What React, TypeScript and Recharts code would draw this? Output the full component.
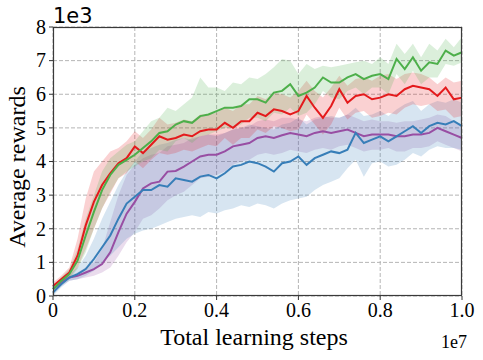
import { ComposedChart, Line, Area, XAxis, YAxis, CartesianGrid } from "recharts";

// training steps (x1e7)
const steps = [
  0, 0.02, 0.04, 0.06, 0.08, 0.1, 0.12, 0.14, 0.16, 0.18, 0.2,
  0.22, 0.24, 0.26, 0.28, 0.3, 0.32, 0.34, 0.36, 0.38, 0.4,
  0.42, 0.44, 0.46, 0.48, 0.5, 0.52, 0.54, 0.56, 0.58, 0.6,
  0.62, 0.64, 0.66, 0.68, 0.7, 0.72, 0.74, 0.76, 0.78, 0.8,
  0.82, 0.84, 0.86, 0.88, 0.9, 0.92, 0.94, 0.96, 0.98, 1.0,
];

const xTicks = [0, 0.2, 0.4, 0.6, 0.8, 1.0];
const yTicks = [0, 1, 2, 3, 4, 5, 6, 7, 8];

// rewards (x1e3)
const greenMean = [
  0.2, 0.45, 0.65, 1.05, 1.8, 2.5, 3.15, 3.6, 3.9, 4.05, 4.2,
  4.4, 4.6, 4.85, 4.9, 5.1, 5.2, 5.15, 5.35, 5.4, 5.5,
  5.6, 5.6, 5.65, 5.85, 5.85, 5.75, 6.05, 6.1, 6.3, 5.95,
  6.05, 6.2, 6.5, 6.35, 6.35, 6.5, 6.6, 6.45, 6.55, 6.6,
  6.45, 7.05, 6.75, 7.1, 6.7, 6.95, 6.9, 7.3, 7.15, 7.25,
];
const greenHigh = [
  0.3, 0.55, 0.8, 1.4, 2.3, 3.0, 3.7, 4.1, 4.3, 4.5, 4.6,
  4.9, 5.2, 5.3, 5.6, 5.5, 5.7, 5.9, 6.5, 6.2, 6.2,
  6.1, 6.35, 6.3, 6.5, 6.45, 6.6, 6.8, 7.05, 7.0, 6.6,
  6.9, 6.75, 6.85, 6.8, 6.85, 6.9, 6.95, 7.0, 6.9, 7.1,
  6.9, 7.5, 7.2, 7.5, 7.1, 7.5, 7.3, 7.65, 7.4, 7.7,
];
const greenLow = [
  0.1, 0.35, 0.5, 0.8, 1.3, 2.0, 2.6, 3.1, 3.5, 3.7, 3.85,
  4.0, 4.1, 4.35, 4.3, 4.6, 4.7, 4.55, 4.75, 4.8, 4.9,
  5.0, 5.0, 5.1, 5.3, 5.3, 5.2, 5.45, 5.4, 5.6, 5.35,
  5.45, 5.7, 6.1, 5.9, 5.85, 6.1, 6.2, 6.0, 6.2, 6.2,
  6.0, 6.6, 6.3, 6.7, 6.3, 6.5, 6.5, 6.9, 6.85, 6.95,
];

const redMean = [
  0.3, 0.5, 0.7, 1.2, 2.1, 2.8, 3.3, 3.65, 3.95, 4.1, 4.45,
  4.25, 4.5, 4.75, 4.65, 4.7, 4.8, 4.75, 4.9, 4.95, 4.95,
  5.15, 5.0, 5.2, 5.2, 5.45, 5.35, 5.55, 5.5, 5.4, 5.5,
  5.95, 5.6, 5.3, 5.65, 6.15, 5.75, 5.95, 6.0, 5.85, 5.9,
  6.0, 5.95, 6.15, 6.25, 6.2, 6.15, 5.95, 6.2, 5.85, 5.9,
];
const redHigh = [
  0.4, 0.6, 0.85, 1.7, 2.9, 3.7, 4.0, 4.3, 4.4, 4.6, 4.9,
  4.7, 4.95, 5.3, 5.1, 5.15, 5.25, 5.2, 5.4, 5.4, 5.45,
  5.6, 5.5, 5.7, 5.7, 5.95, 5.85, 6.05, 6.0, 5.9, 6.1,
  6.4, 6.1, 5.9, 6.2, 6.55, 6.25, 6.45, 6.5, 6.4, 6.55,
  6.6, 6.45, 6.6, 6.65, 6.6, 6.5, 6.3, 6.5, 6.35, 6.4,
];
const redLow = [
  0.2, 0.4, 0.55, 0.85, 1.4, 2.0, 2.6, 3.05, 3.5, 3.65, 4.0,
  3.8, 4.05, 4.25, 4.2, 4.25, 4.35, 4.3, 4.4, 4.5, 4.45,
  4.7, 4.5, 4.7, 4.7, 4.95, 4.85, 5.05, 5.0, 4.9, 4.95,
  5.4, 5.1, 4.8, 5.1, 5.6, 5.25, 5.45, 5.5, 5.3, 5.35,
  5.45, 5.4, 5.6, 5.7, 5.65, 5.7, 5.5, 5.55, 5.3, 5.35,
];

const purpleMean = [
  0.2, 0.4, 0.55, 0.6, 0.7, 0.8, 0.95, 1.3, 1.9, 2.45, 2.8,
  3.2, 3.35, 3.4, 3.7, 3.72, 3.85, 4.0, 4.15, 4.2, 4.2,
  4.3, 4.45, 4.5, 4.55, 4.7, 4.75, 4.7, 4.78, 4.85, 4.8,
  4.75, 4.85, 4.9, 4.85, 4.9, 4.95, 4.85, 4.75, 4.8, 4.8,
  4.8, 4.75, 4.75, 4.8, 4.8, 4.85, 5.0, 4.9, 4.8, 4.7,
];
const purpleHigh = [
  0.3, 0.5, 0.6, 0.7, 0.85, 1.0, 1.4, 2.2, 3.0, 3.6, 3.9,
  4.1, 4.2, 4.25, 4.45, 4.5, 4.55, 4.7, 4.75, 4.8, 4.8,
  4.85, 4.95, 5.0, 5.05, 5.2, 5.25, 5.2, 5.3, 5.3, 5.25,
  5.2, 5.3, 5.35, 5.3, 5.3, 5.4, 5.3, 5.2, 5.25, 5.2,
  5.2, 5.15, 5.2, 5.2, 5.25, 5.3, 5.4, 5.35, 5.2, 5.1,
];
const purpleLow = [
  0.1, 0.3, 0.45, 0.5, 0.55, 0.6, 0.7, 0.85, 1.2, 1.6, 1.9,
  2.3, 2.4, 2.6, 2.85, 3.0, 3.1, 3.3, 3.5, 3.55, 3.6,
  3.7, 3.9, 4.0, 4.05, 4.2, 4.25, 4.2, 4.25, 4.35, 4.3,
  4.25, 4.35, 4.4, 4.35, 4.45, 4.5, 4.4, 4.3, 4.35, 4.35,
  4.4, 4.3, 4.3, 4.4, 4.4, 4.45, 4.6, 4.5, 4.4, 4.3,
];

const blueMean = [
  0.1, 0.35, 0.55, 0.65, 0.8, 1.1, 1.45, 1.8, 2.3, 2.75, 2.95,
  3.15, 3.15, 3.3, 3.25, 3.5, 3.45, 3.4, 3.55, 3.6, 3.5,
  3.65, 3.85, 3.9, 4.0, 3.95, 3.85, 3.7, 3.95, 4.0, 4.15,
  3.9, 4.1, 4.2, 4.3, 4.25, 4.35, 4.85, 4.55, 4.65, 4.75,
  4.6, 4.75, 4.9, 5.05, 4.85, 5.05, 5.15, 5.1, 5.2, 5.05,
];
const blueHigh = [
  0.2, 0.45, 0.65, 0.85, 1.2, 1.7, 2.3, 2.8, 3.3, 3.7, 4.0,
  4.3, 4.4, 4.5, 4.55, 4.65, 4.7, 4.65, 4.75, 4.8, 4.75,
  4.85, 4.95, 5.0, 5.1, 5.05, 5.0, 4.95, 5.1, 5.15, 5.3,
  5.1, 5.25, 5.3, 5.35, 5.3, 5.4, 5.6, 5.35, 5.4, 5.5,
  5.35, 5.55, 5.7, 5.8, 5.5, 5.7, 5.8, 5.75, 5.85, 5.75,
];
const blueLow = [
  0.0, 0.25, 0.45, 0.5, 0.6, 0.75, 1.0, 1.2, 1.45, 1.7, 1.85,
  1.95, 2.0, 2.1, 2.2, 2.3, 2.35, 2.4, 2.35, 2.5, 2.45,
  2.55, 2.6, 2.7, 2.65, 2.75, 2.7, 2.6, 2.75, 2.85, 2.9,
  2.95, 3.15, 3.3, 3.4, 3.5, 3.8, 4.05, 3.55, 3.95, 4.0,
  3.85, 3.9, 4.05, 4.25, 4.15, 4.35, 4.45, 4.4, 4.4, 4.35,
];

// drawing order: first is at the bottom
const SERIES = [
  { key: "purple", color: "#984ea3", mean: purpleMean, low: purpleLow, high: purpleHigh },
  { key: "blue", color: "#377eb8", mean: blueMean, low: blueLow, high: blueHigh },
  { key: "red", color: "#e41a1c", mean: redMean, low: redLow, high: redHigh },
  { key: "green", color: "#4daf4a", mean: greenMean, low: greenLow, high: greenHigh },
];

const data = steps.map((x, i) => {
  const row: Record<string, number | number[]> = { x };
  SERIES.forEach((s) => {
    row[s.key] = s.mean[i];
    row[s.key + "Band"] = [s.low[i], s.high[i]];
  });
  return row;
});

const SERIF = "'Liberation Serif', 'Times New Roman', serif";

function XTick({ x, y, payload }: { x?: number; y?: number; payload?: { value: number } }) {
  const v = payload?.value ?? 0;
  return (
    <text x={x} y={y} dy="0.72em" textAnchor="middle" fontFamily={SERIF} fontSize={20} fill="#000">
      {v === 0 ? "0" : v.toFixed(1)}
    </text>
  );
}

function YTick({ x, y, payload }: { x?: number; y?: number; payload?: { value: number } }) {
  return (
    <text x={x} y={y} dy="0.34em" textAnchor="end" fontFamily={SERIF} fontSize={20} fill="#000">
      {payload?.value}
    </text>
  );
}

export default function App() {
  return (
    <div
      style={{
        position: "absolute", left: 0, top: 0, width: 483, height: 360,
        background: "#fff", fontFamily: SERIF,
      }}
    >
      <ComposedChart width={483} height={360} data={data} margin={{ top: 27, right: 21, bottom: 0, left: 0 }}>
        <CartesianGrid stroke="#b5b5b5" strokeDasharray="4 2" />
        <XAxis
          dataKey="x"
          type="number"
          domain={[0, 1]}
          ticks={xTicks}
          height={64}
          axisLine={false}
          tickSize={4}
          tickMargin={3}
          tickLine={{ stroke: "#333" }}
          tick={<XTick />}
        />
        <YAxis
          type="number"
          domain={[0, 8]}
          ticks={yTicks}
          width={53}
          axisLine={false}
          tickSize={4}
          tickMargin={3}
          tickLine={{ stroke: "#333" }}
          tick={<YTick />}
        />
        {SERIES.map((s) => (
          <Area
            key={s.key + "Band"}
            dataKey={s.key + "Band"}
            type="linear"
            stroke="none"
            fill={s.color}
            fillOpacity={0.2}
            dot={false}
            activeDot={false}
            isAnimationActive={false}
          />
        ))}
        {SERIES.map((s) => (
          <Line
            key={s.key}
            dataKey={s.key}
            type="linear"
            stroke={s.color}
            strokeWidth={2}
            dot={false}
            activeDot={false}
            isAnimationActive={false}
          />
        ))}
      </ComposedChart>

      <svg width={483} height={360} style={{ position: "absolute", left: 0, top: 0, pointerEvents: "none" }}>
        <rect x={53.5} y={27.5} width={408} height={268} fill="none" stroke="#3a3a3a" strokeWidth={1.2} />
        <text x={53} y={23} fontFamily="'DejaVu Sans', sans-serif" fontSize={21} fill="#000">1e3</text>
        <text x={467} y={348} textAnchor="end" fontFamily={SERIF} fontSize={18} fill="#000">1e7</text>
        <text x={254} y={345} textAnchor="middle" fontFamily={SERIF} fontSize={24} fill="#000">
          Total learning steps
        </text>
        <text transform="translate(25,167) rotate(-90)" textAnchor="middle" fontFamily={SERIF} fontSize={24} fill="#000">
          Average rewards
        </text>
      </svg>
    </div>
  );
}
